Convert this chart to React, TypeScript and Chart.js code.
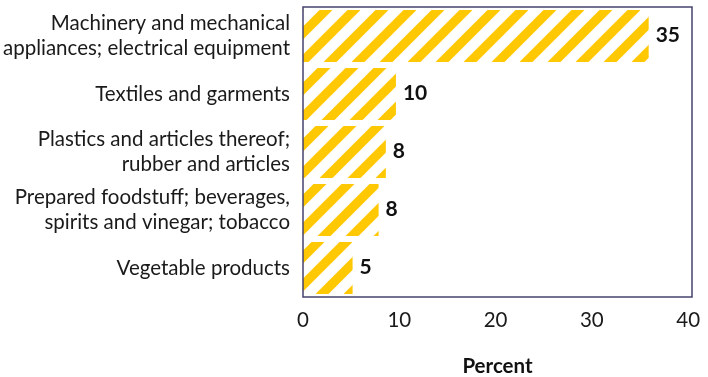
import React, { useEffect, useRef } from "react";
import { Chart, registerables } from "chart.js";

Chart.register(...registerables);

const categories: (string | string[])[] = [
  ["Machinery and mechanical", "appliances; electrical equipment"],
  "Textiles and garments",
  ["Plastics and articles thereof;", "rubber and articles"],
  ["Prepared foodstuff; beverages,", "spirits and vinegar; tobacco"],
  "Vegetable products",
];
const values = [35.9, 9.65, 8.6, 7.85, 5.15];
const valueLabels = ["35", "10", "8", "8", "5"];
const xTicks = [0, 10, 20, 30, 40];

const FONT = "Lato, 'Noto Sans', sans-serif";

function makePattern(): CanvasPattern | string {
  const p = 28;
  const c = document.createElement("canvas");
  c.width = p;
  c.height = p;
  const g = c.getContext("2d");
  if (!g) return "#FFC800";
  g.fillStyle = "#ffffff";
  g.fillRect(0, 0, p, p);
  g.strokeStyle = "#FFC800";
  g.lineWidth = 9.2;
  g.lineCap = "square";
  for (let k = -1; k <= 1; k++) {
    g.beginPath();
    g.moveTo(k * p, p);
    g.lineTo(k * p + p, 0);
    g.stroke();
  }
  const pat = g.createPattern(c, "repeat");
  return pat || "#FFC800";
}

const borderPlugin = {
  id: "boxBorder",
  afterDraw(chart: any) {
    const { ctx, chartArea } = chart;
    ctx.save();
    ctx.strokeStyle = "#45436f";
    ctx.lineWidth = 1.5;
    ctx.strokeRect(chartArea.left, chartArea.top, chartArea.right - chartArea.left, chartArea.bottom - chartArea.top);
    ctx.restore();
  },
};

const valueLabelPlugin = {
  id: "valueLabels",
  afterDatasetsDraw(chart: any) {
    const { ctx } = chart;
    const meta = chart.getDatasetMeta(0);
    ctx.save();
    ctx.font = `bold 21px ${FONT}`;
    ctx.fillStyle = "#111111";
    ctx.textAlign = "left";
    ctx.textBaseline = "middle";
    meta.data.forEach((el: any, i: number) => {
      ctx.fillText(valueLabels[i], el.x + 7, el.y - 1);
    });
    ctx.restore();
  },
};

export default function App() {
  const ref = useRef<HTMLCanvasElement | null>(null);

  useEffect(() => {
    document.body.style.margin = "0";
    if (!ref.current) return;
    const chart = new Chart(ref.current, {
      type: "bar",
      data: {
        labels: categories,
        datasets: [
          {
            data: values,
            backgroundColor: makePattern() as any,
            borderWidth: 0,
            barPercentage: 0.9,
            categoryPercentage: 1,
          },
        ],
      },
      options: {
        indexAxis: "y",
        animation: false,
        responsive: false,
        maintainAspectRatio: false,
        layout: { padding: { left: 0, top: 7, right: 16, bottom: 0 } },
        plugins: {
          legend: { display: false },
          tooltip: { enabled: false },
          title: { display: false },
        },
        scales: {
          x: {
            min: 0,
            max: 40.4,
            grid: { display: false, drawTicks: false },
            border: { display: false },
            afterBuildTicks: (scale: any) => {
              scale.ticks = xTicks.map((v) => ({ value: v }));
            },
            afterFit: (scale: any) => {
              scale.height = 80;
              scale.paddingLeft = 0;
              scale.paddingRight = 0;
            },
            ticks: {
              padding: 11,
              color: "#1a1a1a",
              font: { family: FONT, size: 20.5 },
            },
            title: {
              display: true,
              text: "Percent",
              color: "#111111",
              font: { family: FONT, size: 20.5, weight: "bold", lineHeight: 1.0 },
              padding: { top: 0, bottom: 0 },
            },
          },
          y: {
            grid: { display: false, drawTicks: false },
            border: { display: false },
            afterFit: (scale: any) => {
              scale.width = 303;
              scale.paddingTop = 0;
              scale.paddingBottom = 0;
            },
            ticks: {
              padding: 13,
              color: "#1a1a1a",
              font: { family: FONT, size: 20.5, lineHeight: 1.22 },
            },
          },
        },
      },
      plugins: [borderPlugin, valueLabelPlugin],
    });
    return () => chart.destroy();
  }, []);

  return (
    <div style={{ width: 708, height: 377 }}>
      <canvas ref={ref} width={708} height={377} style={{ display: "block" }} />
    </div>
  );
}
